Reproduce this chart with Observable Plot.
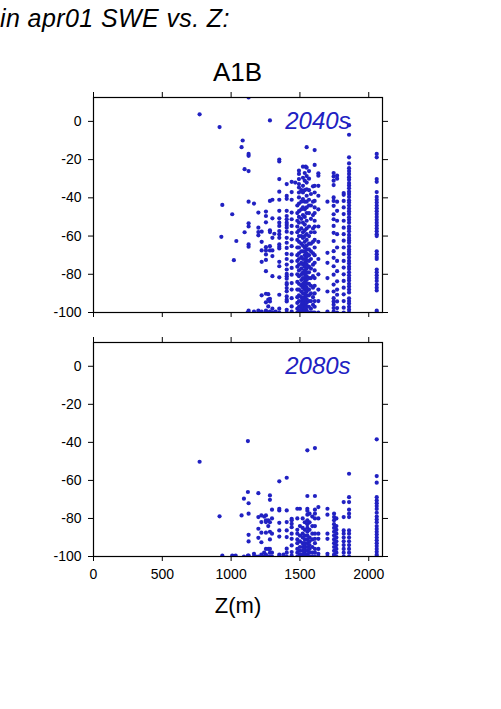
<!DOCTYPE html>
<html>
<head>
<meta charset="utf-8">
<script src="https://cdn.jsdelivr.net/npm/d3@7"></script>
<script src="https://cdn.jsdelivr.net/npm/@observablehq/plot@0.6"></script>
<style>
  html, body { margin: 0; padding: 0; background: #fff; }
  #wrap { position: relative; width: 501px; height: 709px; overflow: hidden; font-family: "Liberation Sans", Arial, sans-serif; }
  .t { position: absolute; line-height: 1; white-space: nowrap; color: #000; }
  #title { left: 0px; top: 5.5px; font-size: 25px; font-style: italic; letter-spacing: 0.4px; }
  #scen { left: 0; width: 475px; text-align: center; top: 59px; font-size: 26px; }
  .p { position: absolute; left: 0; }
</style>
</head>
<body>
<div id="wrap">
  <div id="title" class="t">in apr01 SWE vs. Z:</div>
  <div id="scen" class="t">A1B</div>
  <div id="p1" class="p" style="top:60px"></div>
  <div id="p2" class="p" style="top:305px"></div>
</div>
<script>
// ---- data: [elevation (m), [change in apr01 SWE (%) ...]] ----
const panelLabels = ["2040s", "2080s"];
const xTicks = [0, 500, 1000, 1500, 2000];
const yTicks = [0, -20, -40, -60, -80, -100];
const xDomain = [0, 2100];
const yDomain = [-100, 12.5];
const xLabel = "Z(m)";

const cols2040 = [
  [771, [3.7]],
  [916, [-3]],
  [929, [-60.4]],
  [936, [-43.7]],
  [1008, [-48.6]],
  [1020, [-72.6]],
  [1038, [-62.6]],
  [1076, [-13.5]],
  [1084, [-10]],
  [1098, [-25, -58]],
  [1120, [-100]],
  [1127, [12.5, -17, -18, -26, -42, -53.3, -55, -64.4, -65.6, -99, -100]],
  [1166, [-43, -99.5]],
  [1198, [-47.7, -55.6, -57.9, -59.6, -99, -100]],
  [1222, [-57.7, -63, -67.5, -73.5, -91, -99.5]],
  [1253, [-47.2, -49.5, -52.8, -65.8, -67.5, -69.6, -72.5, -78.4, -90.2, -94.7, -99, -100]],
  [1270, [-90.4, -93.3, -96.8, -100]],
  [1282, [0.5, -41.6, -57, -57.9, -65.3, -67.5, -92.8, -94.2, -99.5]],
  [1300, [-41, -50.7, -60.9, -67.5, -70.5, -81, -98, -100]],
  [1314, [-58.8, -100]],
  [1324, [-99.5]],
  [1350, [-20, -21, -30.2, -36.8, -41, -46.8, -50.7, -53, -54.7, -57.4, -59.1, -60.9, -64.4, -65.6, -66.5, -73.5, -75.8, -81.6, -90.7, -98, -100]],
  [1404, [-32.8, -39, -40.5, -46.8, -49.5, -51.2, -53, -54.2, -55.6, -57.7, -60.9, -63.5, -66.2, -69.3, -72, -74.9, -77.5, -79.8, -81, -82.3, -84.6, -85.4, -87.2, -88.9, -91.6, -93.3, -94.2, -98.6, -100]],
  [1440, [-31.6, -37, -41, -47.7, -51.2, -54.7, -58.3, -61.7, -65.3, -69.6, -73.2, -76.7, -80.2, -84.6, -88, -92.5, -96.8, -99.5]],
  [1466, [-32]],
  [1481, [-44, -48, -52, -55, -58, -62, -66, -70, -73, -76, -80, -84, -88, -92, -95, -98, -100]],
  [1493, [-25.8, -27.5, -30.2, -32.8, -34.6, -37.2, -39.8, -43, -47, -50, -53, -57, -60, -63, -66, -69, -72, -75, -78, -81, -85, -88, -91, -94, -97, -99, -100]],
  [1510, [-36, -42, -46, -51, -56, -60, -64, -68, -71, -74, -77, -80, -83, -86, -89, -92, -94, -96, -98, -100]],
  [1522, [-23.7, -29.5, -33.7, -37.2, -40.6, -45, -49, -53, -58, -61, -65, -68, -72, -75, -79, -82, -85, -87, -90, -93, -95, -97, -99, -100]],
  [1535, [-27, -31, -36, -42, -46, -50, -54, -57, -60, -63, -66, -68, -70, -72, -74, -76, -78, -80, -82, -84, -86, -88, -90, -92, -94, -96, -98, -99, -100]],
  [1542, [-23.7, -83, -87, -91, -95, -98, -100]],
  [1549, [-13.5, -24.2, -28.6, -32, -35.5, -38.9, -42, -45, -48, -52, -56, -59, -62, -65, -67, -69, -71, -73, -75, -77, -79, -81, -83, -85, -87, -89, -91, -93, -95, -97, -99, -100]],
  [1566, [-26, -30, -36, -41, -44, -48, -55, -60, -64, -67, -70, -73, -76, -79, -82, -85, -88, -91, -94, -97, -100]],
  [1580, [-38, -44, -51, -58, -64, -68, -72, -77, -82, -86, -90, -94, -98, -100]],
  [1595, [-34, -42, -49, -56, -63, -69, -75, -81, -87, -92, -96, -100]],
  [1607, [-15, -22.8, -33.7, -37.2, -41.6, -45, -48, -52, -55, -58, -62, -66, -70, -74, -78, -82, -86, -90, -94, -97, -100]],
  [1634, [-27.2, -28.4, -33.7, -38.9, -46, -55, -63, -72, -80, -88, -94, -100]],
  [1700, [-42, -68.8, -74, -82, -89, -99.5]],
  [1745, [-27, -28.8, -31, -33.3, -39.8, -41.6, -44.2, -48.6, -51.2, -54.7, -58.3, -62.6, -67.9, -71.4, -75.8, -80.2, -85.4, -89, -92.5, -94.2, -95.9, -97.7, -99.5]],
  [1770, [-28.4, -30, -42, -46.8, -52, -59, -66, -73, -78.4, -83.7, -88, -90.7, -94.2, -97.7, -100]],
  [1818, [-37.5, -38.4, -41.6, -45, -48.5, -52, -55.6, -59, -62.4, -66, -69.4, -73, -76.5, -80, -83.5, -87, -90.5, -94, -97.5, -100]],
  [1857, [-2, -7, -18.8, -22, -24.5, -26, -27.5, -29.2, -30.5, -32.3, -33.5, -35, -36.8, -38, -39.5, -41.3, -42.5, -44, -45.6, -47, -48.4, -50.2, -51.5, -53, -55, -56.2, -57.5, -59.4, -61, -62.3, -63.5, -65.4, -67, -68.2, -69.5, -71.3, -73, -74.4, -76, -77.3, -79, -80.5, -82, -83.2, -85, -86.4, -88, -89.5, -92.6, -94, -95.3, -97, -98.5, -100]],
  [2058, [-17, -18.8, -30.2, -31.6, -37, -39.5, -41, -42.5, -44, -45.5, -47, -48.5, -50, -51.5, -53, -54.5, -56, -57.5, -59, -60, -68, -69.5, -71, -72, -77.5, -79, -80.5, -82, -83.5, -85.4, -87, -88.5, -99, -100]]
];

const cols2080 = [
  [771, [-50.2]],
  [916, [-78.9]],
  [936, [-99.5]],
  [1008, [-99.5]],
  [1020, [-100]],
  [1033, [-99.5]],
  [1076, [-78.4]],
  [1093, [-69.6, -100]],
  [1122, [-39.3, -66.1, -99.5]],
  [1127, [-72, -77.5, -88.6, -92.1, -99.5, -100]],
  [1166, [-98.6, -100]],
  [1180, [-100]],
  [1198, [-66.7, -79.3, -85.4, -90.2, -100]],
  [1220, [-78.4, -81.9, -87.5, -92.5, -99, -100]],
  [1240, [-79, -98, -100]],
  [1253, [-78.4, -81, -81.9, -87.5, -96, -99, -100]],
  [1270, [-81, -84, -96, -100]],
  [1282, [-67.9, -70.2, -82, -87, -91, -96, -98, -100]],
  [1297, [-75.4, -80, -88, -98, -100]],
  [1350, [-60.5, -74.9, -75.8, -82.3, -86.3, -89.5, -99, -100]],
  [1380, [-99, -100]],
  [1404, [-58.6, -75.8, -81.9, -86.3, -89.8, -95.9, -98, -100]],
  [1440, [-80.2, -81, -82.8, -84.6, -88, -90.7, -94.2, -97.7, -99.5]],
  [1481, [-74.9, -80, -86, -88, -91, -93, -96, -98, -100]],
  [1500, [-74.9, -84, -89, -92, -95, -97, -99, -100]],
  [1520, [-80, -85, -88, -90, -93, -95, -97, -99, -100]],
  [1535, [-82, -86, -89, -91, -93, -94.5, -96, -97.5, -99, -100]],
  [1554, [-44.2, -68.2, -74.9, -76, -78, -81, -83, -85, -87, -89, -91, -93, -95, -97, -99, -100]],
  [1570, [-77.5, -82, -86, -90, -92, -94, -96, -98, -100]],
  [1590, [-79, -84, -88, -91, -95, -98, -100]],
  [1609, [-43, -68.2, -75.4, -77.5, -80, -84, -88, -90.7, -93, -96, -98, -100]],
  [1634, [-74, -80, -88, -90.7, -96, -98.6, -100]],
  [1700, [-74.9, -78, -88, -90.7, -98.6, -100]],
  [1748, [-77.5, -79.3, -81, -83, -85, -87, -89, -91, -93, -95, -97, -99, -100]],
  [1765, [-80, -84, -86, -88, -90, -92, -94, -96, -98, -100]],
  [1818, [-71.4, -79.3, -86.3, -88, -90, -92, -94, -96, -98, -100]],
  [1857, [-56.5, -68.8, -71.4, -75.4, -77.5, -79.3, -86.3, -88, -90, -92, -94, -96, -98, -100]],
  [2058, [-38.4, -57.7, -61.2, -68.8, -70.5, -72, -73.5, -75, -77, -79, -80.5, -82, -84, -85.5, -87, -88.5, -90, -91.5, -93, -94.5, -96, -97.5, -99, -100]]
];

const dotColor = "#2121c2";
const flat = cols => cols.flatMap(([z, ys]) => ys.map(d => ({z, d})));

function panel(cols, label, bottom) {
  const marks = [
    Plot.dot(flat(cols), {x: "z", y: "d", r: 2.1, fill: dotColor, stroke: "none", clip: true}),
    Plot.frame({stroke: "#000", strokeWidth: 1.2}),
    Plot.axisY({anchor: "left", ticks: yTicks, tickSize: 5, tickPadding: 7, tickFormat: d => String(d), label: null}),
    Plot.axisY({anchor: "right", ticks: yTicks, tickSize: 5, tickFormat: () => "", label: null}),
    Plot.axisX({anchor: "top", ticks: xTicks, tickSize: 6, tickFormat: () => "", label: null}),
    Plot.axisX({anchor: "bottom", ticks: xTicks, tickSize: 5, tickPadding: 8, tickFormat: bottom ? (d => String(d)) : (() => ""), label: null}),
    Plot.text([label], {x: 1868, y: 0, text: d => d, textAnchor: "end", lineAnchor: "middle", fill: dotColor, fontSize: 24, fontStyle: "italic"})
  ];
  if (bottom) {
    marks.push(Plot.text([xLabel], {frameAnchor: "bottom", dy: 41, lineAnchor: "top", text: d => d, fontSize: 22, fill: "#000"}));
  }
  return Plot.plot({
    width: 501,
    height: bottom ? 331 : 270,
    marginLeft: 93,
    marginRight: 119,
    marginTop: 37,
    marginBottom: bottom ? 80 : 18,
    style: {fontFamily: "Liberation Sans, Arial, sans-serif", fontSize: "14px", background: "transparent", color: "#000"},
    x: {domain: xDomain},
    y: {domain: yDomain},
    marks
  });
}

document.getElementById("p1").appendChild(panel(cols2040, panelLabels[0], false));
document.getElementById("p2").appendChild(panel(cols2080, panelLabels[1], true));
</script>
</body>
</html>
